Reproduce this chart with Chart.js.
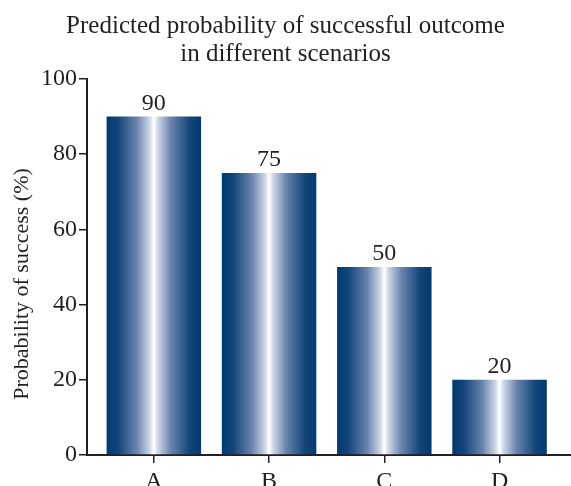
<!DOCTYPE html>
<html>
<head>
<meta charset="utf-8">
<script src="https://cdn.jsdelivr.net/npm/chart.js@4"></script>
<style>
  html, body { margin: 0; padding: 0; background: #fff; }
  #wrap { width: 571px; height: 486px; }
</style>
</head>
<body>
<div id="wrap"><canvas id="c" width="571" height="486"></canvas></div>
<script>
const categories = ['A', 'B', 'C', 'D'];
const probabilities = [90, 75, 50, 20];
const yTicks = [0, 20, 40, 60, 80, 100];
const yTitle = 'Probability of success (%)';

const INK = '#231f20';
const SERIF = '"Liberation Serif", "Times New Roman", serif';
const BAR_FRACTION = 0.82;

// Metallic blue fill: dark edges fading to a white streak down the middle
function barGradient(ctx) {
  const chart = ctx.chart;
  if (!chart.chartArea) return '#003a70';
  const xs = chart.scales.x;
  const cx = xs.getPixelForValue(ctx.dataIndex);
  const half = (xs.getPixelForValue(1) - xs.getPixelForValue(0)) * BAR_FRACTION / 2;
  const g = chart.ctx.createLinearGradient(cx - half, 0, cx + half, 0);
  g.addColorStop(0.00, '#003a70');
  g.addColorStop(0.12, '#12457a');
  g.addColorStop(0.32, '#6a84ae');
  g.addColorStop(0.45, '#c8d2e4');
  g.addColorStop(0.50, '#ffffff');
  g.addColorStop(0.55, '#c8d2e4');
  g.addColorStop(0.68, '#6a84ae');
  g.addColorStop(0.88, '#12457a');
  g.addColorStop(1.00, '#003a70');
  return g;
}

// Value printed above each bar, plus the rotated y-axis caption
const annotations = {
  id: 'annotations',
  afterDatasetsDraw(chart) {
    const { ctx } = chart;
    const meta = chart.getDatasetMeta(0);
    ctx.save();
    ctx.font = '24px ' + SERIF;
    ctx.fillStyle = INK;
    ctx.textAlign = 'center';
    ctx.textBaseline = 'alphabetic';
    meta.data.forEach((bar, i) => {
      ctx.fillText(String(probabilities[i]), bar.x, bar.y - 7);
    });
    ctx.restore();

    ctx.save();
    ctx.font = '22px ' + SERIF;
    ctx.fillStyle = INK;
    ctx.textAlign = 'center';
    ctx.textBaseline = 'middle';
    ctx.translate(22, 284);
    ctx.rotate(-Math.PI / 2);
    ctx.fillText(yTitle, 0, 0);
    ctx.restore();
  }
};

new Chart(document.getElementById('c'), {
  type: 'bar',
  data: {
    datasets: [{
      data: probabilities.map((v, i) => ({ x: i, y: v })),
      backgroundColor: barGradient,
      borderWidth: 0,
      barPercentage: BAR_FRACTION,
      categoryPercentage: 1.0
    }]
  },
  options: {
    responsive: false,
    animation: false,
    layout: { padding: 0 },
    plugins: {
      legend: { display: false },
      tooltip: { enabled: false },
      title: {
        display: true,
        text: ['Predicted probability of successful outcome', 'in different scenarios'],
        color: INK,
        font: { family: SERIF, size: 25, weight: 'normal', lineHeight: 1.12 },
        padding: { top: 12, bottom: 11 }
      }
    },
    scales: {
      x: {
        type: 'linear',
        offset: false,
        min: -0.58,
        max: 3.62,
        afterBuildTicks(scale) {
          scale.ticks = categories.map((_, i) => ({ value: i }));
        },
        afterFit(scale) { scale.height = 31; },
        ticks: {
          callback: (v) => categories[v],
          color: INK,
          font: { family: SERIF, size: 24 },
          padding: 4,
          maxRotation: 0,
          autoSkip: false
        },
        grid: { offset: false, drawOnChartArea: false, drawTicks: true, tickLength: 8, color: INK, lineWidth: 1.5 },
        border: { color: INK, width: 2 }
      },
      y: {
        min: 0,
        max: 100,
        afterBuildTicks(scale) {
          scale.ticks = yTicks.map(v => ({ value: v }));
        },
        afterFit(scale) { scale.width = 87; },
        ticks: {
          color: INK,
          font: { family: SERIF, size: 24 },
          padding: 2
        },
        grid: { drawOnChartArea: false, drawTicks: true, tickLength: 8, color: INK, lineWidth: 1.5 },
        border: { color: INK, width: 2 }
      }
    }
  },
  plugins: [annotations]
});
</script>
</body>
</html>
